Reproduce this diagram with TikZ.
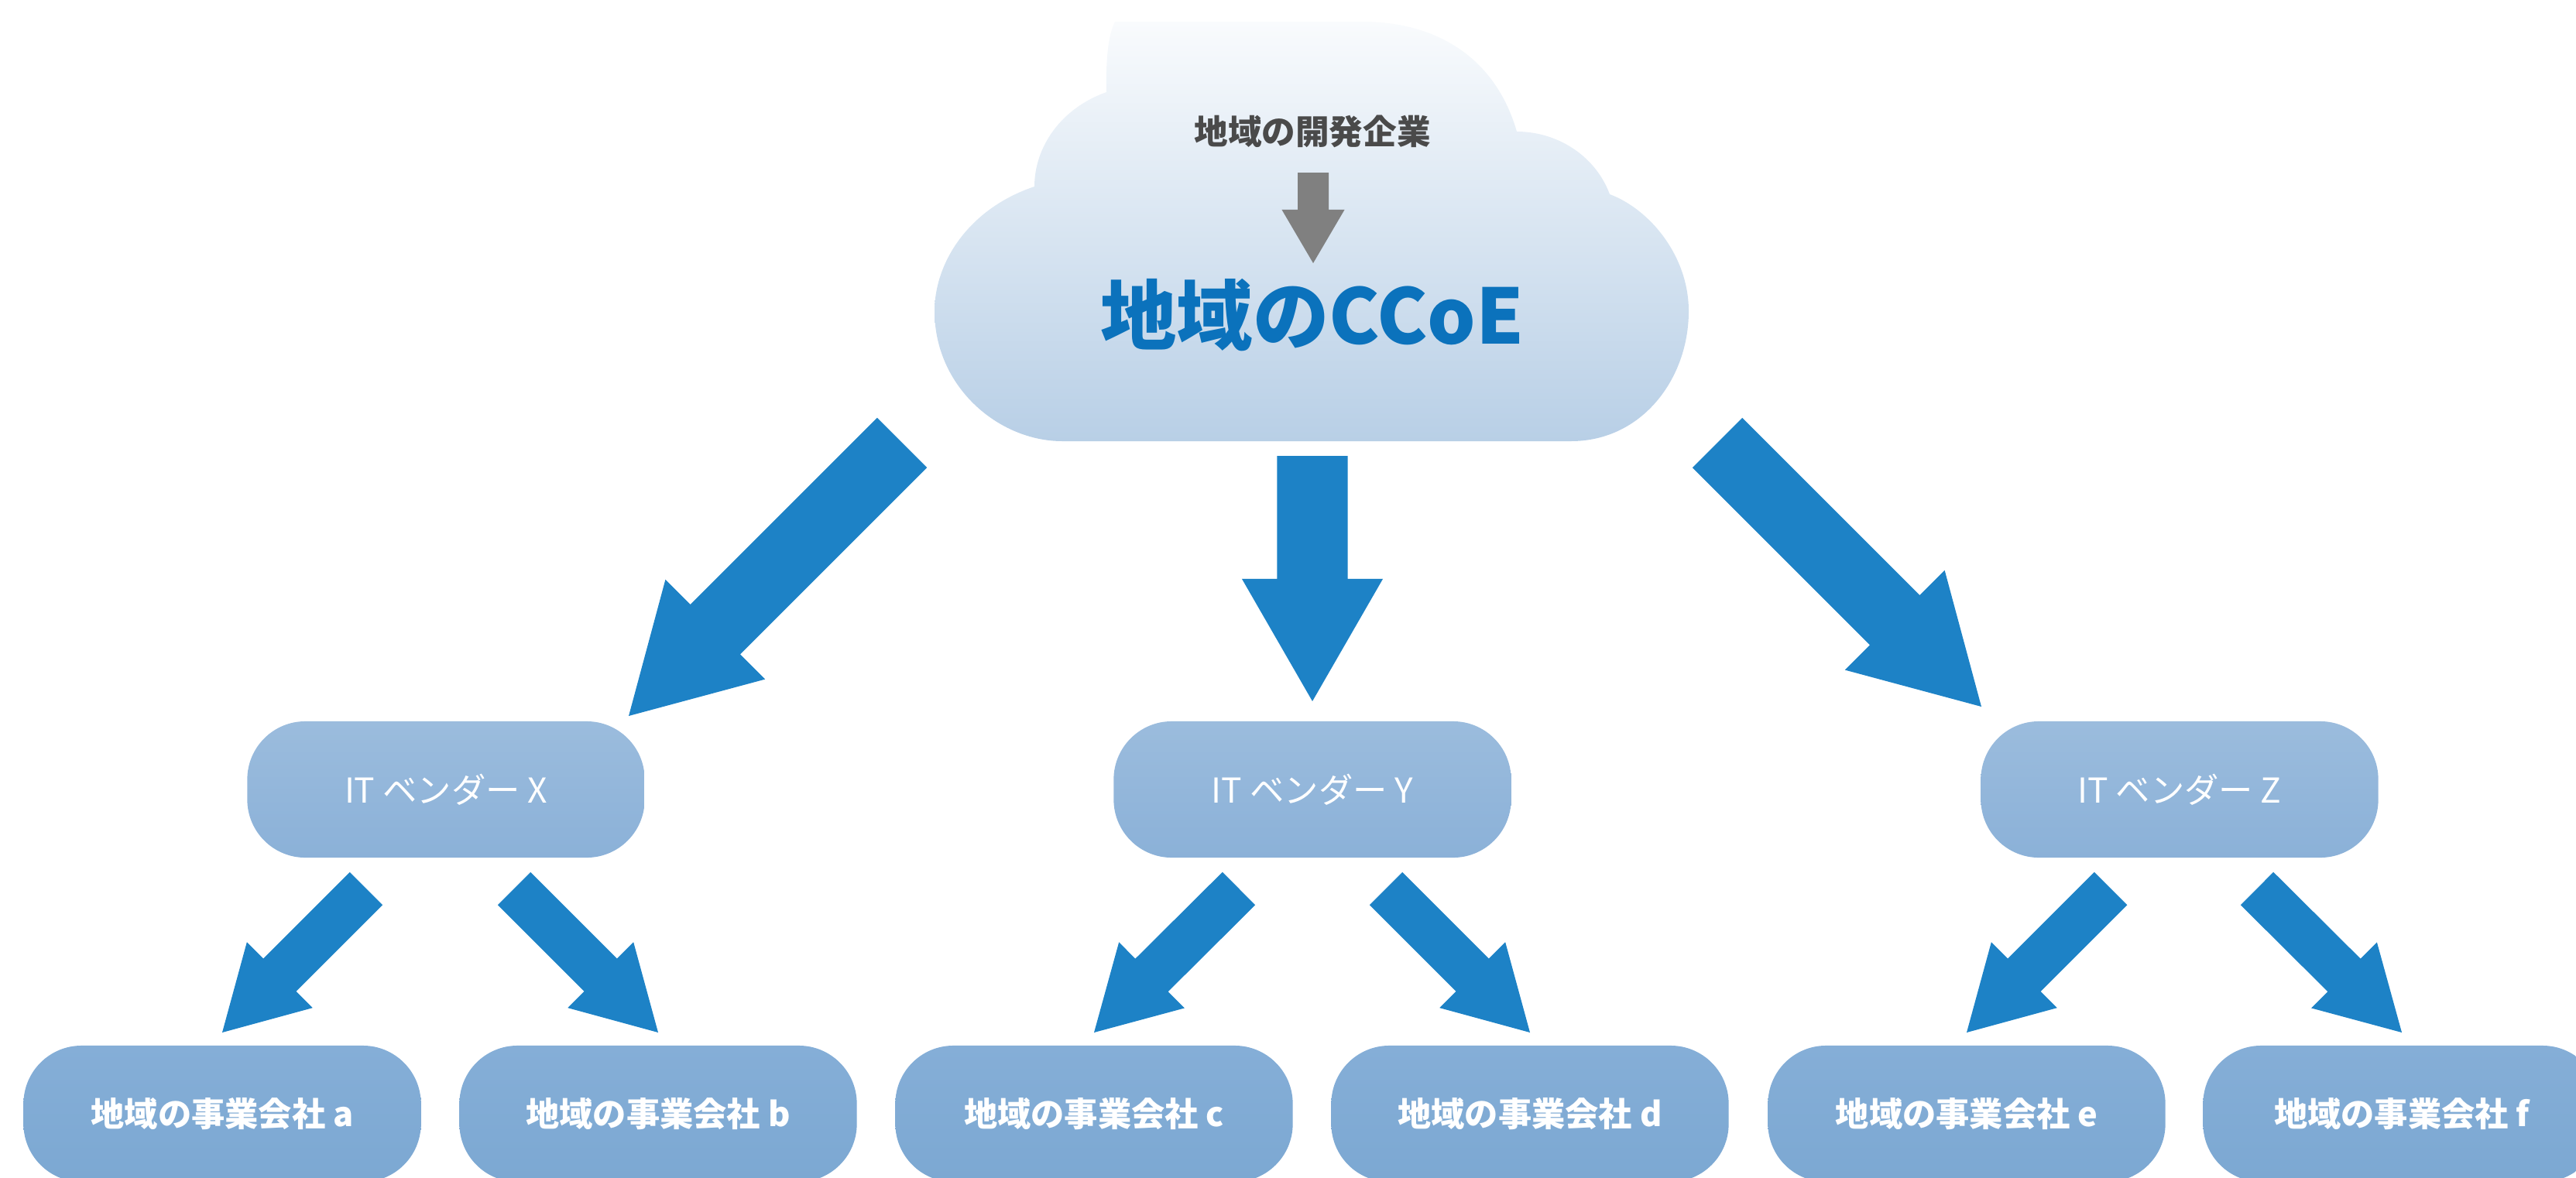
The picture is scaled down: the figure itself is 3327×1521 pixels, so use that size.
\documentclass[tikz,border=0pt]{standalone}
\usepackage{fontspec}
\setmainfont{Noto Sans CJK JP}
\usetikzlibrary{calc}

\definecolor{arrowblue}{HTML}{1D82C6}
\definecolor{arrowgray}{HTML}{808080}
\definecolor{textgray}{HTML}{4A4A4A}
\definecolor{titleblue}{HTML}{0B72BC}
\definecolor{cloudtop}{HTML}{F9FBFD}
\definecolor{cloudbot}{HTML}{B8CFE6}
\definecolor{vendortop}{HTML}{9BBCDD}
\definecolor{vendorbot}{HTML}{8BB1D8}
\definecolor{comptop}{HTML}{85AED7}
\definecolor{compbot}{HTML}{7CA8D2}

% block arrow: style, from, to, half shaft, half head, head length
\newcommand{\fatarrow}[6]{%
  \coordinate (hb) at ($(#3)!#6!(#2)$);
  \fill[#1] ($(#2)!#4!90:(#3)$) -- ($(hb)!#4!90:(#3)$) -- ($(hb)!#5!90:(#3)$)
    -- (#3) -- ($(hb)!#5!-90:(#3)$) -- ($(hb)!#4!-90:(#3)$) -- ($(#2)!#4!-90:(#3)$) -- cycle;
}

\tikzset{
  vendor/.style={rounded corners=0.75cm, minimum width=5.13cm, minimum height=1.76cm,
    top color=vendortop, bottom color=vendorbot, text=white, inner sep=0pt,
    font=\fontsize{12.6}{14}\selectfont},
  company/.style={vendor, top color=comptop, bottom color=compbot,
    font=\bfseries\fontsize{12.3}{14}\selectfont},
}

\begin{document}
\begin{tikzpicture}[x=0.01cm,y=0.01cm,yscale=-1]
\useasboundingbox (0,0) rectangle (3327,1521);
\clip (0,0) rectangle (3327,1521);

%Shape: Cloud
\shade[top color=cloudtop, bottom color=cloudbot]
  (1372,570) -- (2029,570) .. controls (2120,570) and (2181,490) .. (2181,402)
  .. controls (2181,330) and (2130,270) .. (2079,251)
  .. controls (2060,200) and (2010,170) .. (1959,170)
  .. controls (1930,70) and (1850,28) .. (1760,28) -- (1440,28)
  .. controls (1431,45) and (1428,80) .. (1429,119)
  .. controls (1370,140) and (1336,190) .. (1336,241)
  .. controls (1250,270) and (1207,340) .. (1207,402)
  .. controls (1207,500) and (1290,570) .. (1372,570) -- cycle;

% Text Node
\node[text=textgray, font=\bfseries\fontsize{12.4}{14}\selectfont] (dev) at (1695,170) {地域の開発企業};
% Text Node
\node[text=titleblue, font=\bfseries\fontsize{28}{32}\selectfont] (ccoe) at (1695,407) {地域のCCoE};

\coordinate (g0) at (1696,223);
\coordinate (g1) at (1696,340);
\fatarrow{arrowgray}{g0}{g1}{0.2cm}{0.405cm}{0.69cm}

% vendors
\node[vendor] (vx) at (576,1020) {IT ベンダー X};
\node[vendor] (vy) at (1695,1020) {IT ベンダー Y};
\node[vendor] (vz) at (2815,1020) {IT ベンダー Z};

% companies
\node[company] (ca) at (287,1439) {地域の事業会社 a};
\node[company] (cb) at (850,1439) {地域の事業会社 b};
\node[company] (cc) at (1413,1439) {地域の事業会社 c};
\node[company] (cd) at (1976,1439) {地域の事業会社 d};
\node[company] (ce) at (2540,1439) {地域の事業会社 e};
\node[company] (cf) at (3102,1439) {地域の事業会社 f};

% big arrows
\coordinate (t1) at (1165,572);  \coordinate (h1) at (812,925);
\coordinate (t2) at (1695,589);  \coordinate (h2) at (1695,906);
\coordinate (t3) at (2218,572);  \coordinate (h3) at (2559,913);
\foreach \i in {1,2,3}{
  \fatarrow{arrowblue}{t\i}{h\i}{0.455cm}{0.91cm}{1.58cm}
}

% small arrows
\foreach \tx/\hx [count=\i] in {473/287,664/850,1600/1413,1790/1976,2726/2540,2915/3102}{
  \coordinate (s\i) at (\tx,1148);
  \coordinate (e\i) at (\hx,1334);
  \fatarrow{arrowblue}{s\i}{e\i}{0.3cm}{0.6cm}{1.05cm}
}

\end{tikzpicture}
\end{document}
